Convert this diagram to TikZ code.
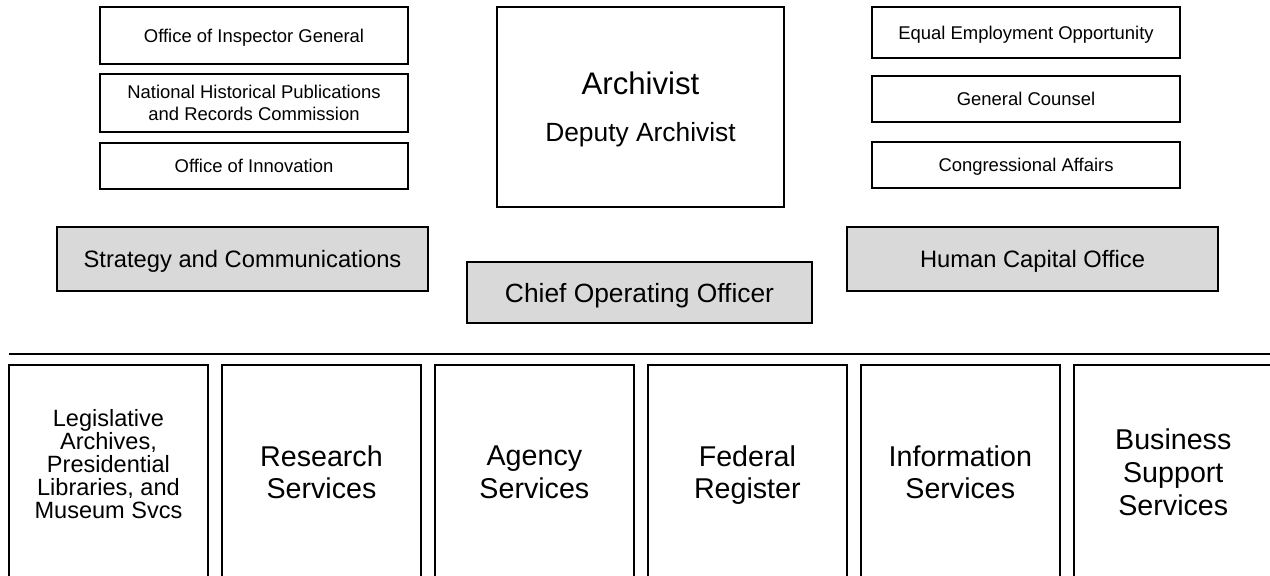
\documentclass[tikz,border=0pt]{standalone}
\usepackage{fontspec}
\setmainfont{Liberation Sans}
\usepackage{tikz}
\usetikzlibrary{positioning}

\definecolor{unitgray}{RGB}{217,217,217}

\begin{document}
\begin{tikzpicture}[
            x = 0.02cm, y = -0.02cm, % one unit = one pixel, y runs down
            line width = 0.9pt, % box outline
            every node/.style = {align = center, inner sep = 2pt, outer sep = 0pt,
                                 text depth = 0pt}
        ]

        \tikzset{
            staff/.style = {draw, fill = white, minimum width = 6.16cm,
                            font = \fontsize{10.5}{12.5}\selectfont},
            exec/.style = {draw, fill = unitgray, minimum height = 1.28cm,
                           font = \fontsize{13.5}{16}\selectfont},
            division/.style = {draw, anchor = north west,
                               minimum width = 3.98cm, minimum height = 4.28cm,
                               font = \fontsize{16.3}{18.6}\selectfont}
        }

        \useasboundingbox (0,0) rectangle (1270,575);

	% staff offices, left
        \node[staff, minimum height = 1.14cm] (OIG) at (254,35.5) {Office of Inspector General};
        \node[staff, minimum height = 1.16cm] (NHPRC) [below = 0.2cm of OIG] {National Historical Publications\\and Records Commission};
        \node[staff, minimum height = 0.92cm] (INN) [below = 0.22cm of NHPRC] {Office of Innovation};

	% archivist
        \node[draw, minimum width = 5.74cm, minimum height = 4cm,
              font = \fontsize{15}{18}\selectfont] (ARCH) at (640.5,107)
            {\fontsize{17.75}{18}\selectfont Archivist\\[8.6pt]Deputy Archivist};

	% staff offices, right
        \node[staff, minimum height = 1.02cm] (EEO) at (1026,32.5) {Equal Employment Opportunity};
        \node[staff, minimum height = 0.92cm] (GC) [below = 0.36cm of EEO] {General Counsel};
        \node[staff, minimum height = 0.92cm] (CA) [below = 0.4cm of GC] {Congressional Affairs};

	% executive offices
        \node[exec, minimum width = 7.42cm] (SC) at (242.5,259) {Strategy and Communications};
        \node[exec, minimum width = 7.42cm] (HCO) at (1032.5,259) {Human Capital Office};
        \node[exec, minimum width = 6.9cm, minimum height = 1.22cm,
              font = \fontsize{15}{18}\selectfont] (COO) at (639.5,292.5) {Chief Operating Officer};

	% dividing rule
        \coordinate (ruleL) at (9,354);
        \coordinate (ruleR) at (1270,354);
        \draw (ruleL) -- (ruleR);

	% program offices
        \node[division, font = \fontsize{13.4}{13.2}\selectfont, text depth = 0.32cm] (LA) at (9,365)
            {Legislative\\Archives,\\Presidential\\Libraries, and\\Museum Svcs};
        \node[division] (RS) [right = 0.28cm of LA] {Research\\Services};
        \node[division] (AS) [right = 0.28cm of RS] {Agency\\Services};
        \node[division] (FR) [right = 0.28cm of AS] {Federal\\Register};
        \node[division] (IS) [right = 0.28cm of FR] {Information\\Services};
        \node[division] (BSS) [right = 0.28cm of IS] {Business\\Support\\Services};

\end{tikzpicture}
\end{document}
